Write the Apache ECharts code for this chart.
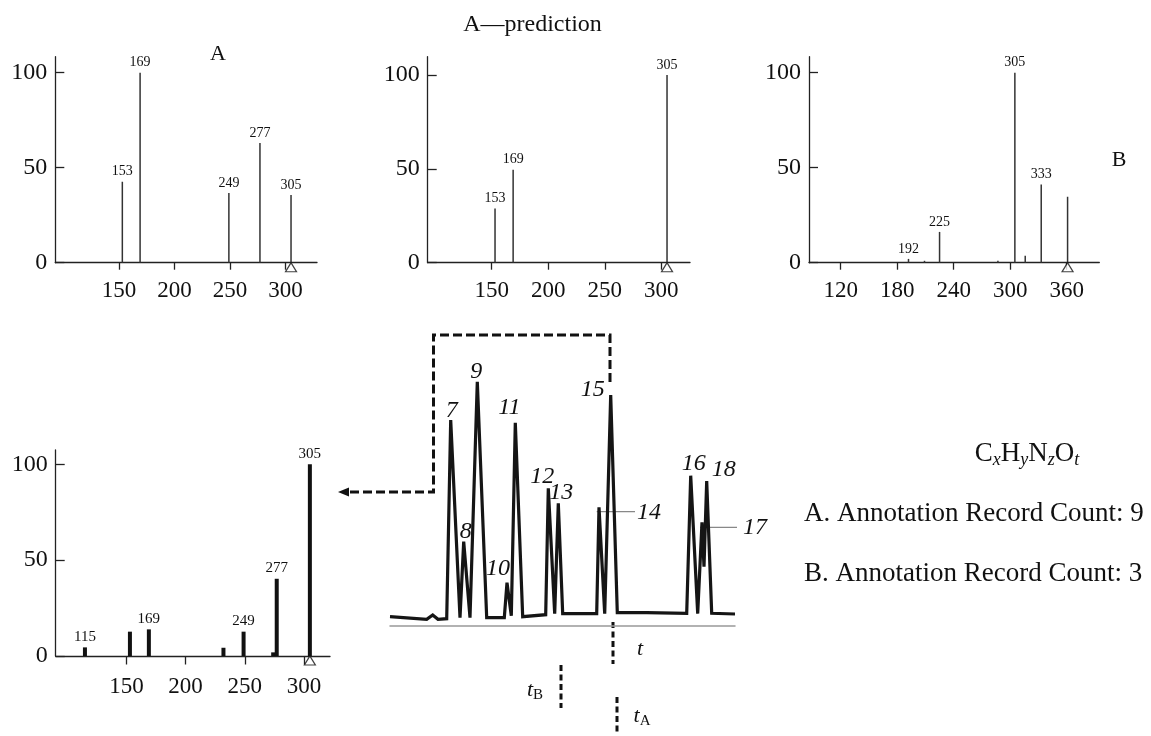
<!DOCTYPE html>
<html><head><meta charset="utf-8">
<script src="https://cdn.jsdelivr.net/npm/echarts@6/dist/echarts.min.js"></script>
<style>html,body{margin:0;padding:0;background:#fff}#c{width:1151px;height:736px}</style>
</head><body><div id="c"></div>
<script>
// ---- data ----
// Spectrum A (top-left)
const specA_mz  = [153, 169, 249, 277, 305];
const specA_int = [42.6, 100, 36.7, 63, 35.6];
const specA_lab = ['153', '169', '249', '277', '305'];
// A - prediction (top-middle)
const pred_mz  = [153, 169, 305];
const pred_int = [28.9, 49.5, 100];
const pred_lab = ['153', '169', '305'];
// Spectrum B (top-right)
const specB_mz  = [192, 209, 225, 287, 305, 316, 333, 361];
const specB_int = [2, 1, 16.2, 1, 100, 3.7, 41.2, 34.7];
const specB_lab = ['192', '', '225', '', '305', '', '333', ''];
// measured spectrum of peak 15 (bottom-left)
const meas_mz  = [115, 153, 169, 232, 249, 274, 277, 305];
const meas_int = [4.5, 12.7, 13.9, 4.3, 12.7, 1.9, 40.3, 100];
const meas_lab = ['115', '', '169', '', '249', '', '277', '305'];
// precursor markers
const precA = 305, precPred = 305, precB = 361, precMeas = 305;
// tick labels
const ticksMz  = [150, 200, 250, 300];
const ticksMzB = [120, 180, 240, 300, 360];
const ticksInt = [0, 50, 100];
// chromatogram trace (retention position, signal)
const chromX = [0, 36.7, 42.7, 48, 56.7, 60.7, 70, 73.7, 80, 82, 87.3, 96.7, 114.3, 117, 121.3, 125.3, 132.7,
                155.7, 158.3, 164.7, 168.3, 172.7, 206.7, 209, 214.7, 220.7, 227.3, 256.7, 296.7, 300.7,
                307.7, 312, 314, 316.7, 321.7, 345];
const chromY = [9, 6.4, 10.7, 6.4, 7, 205.7, 8, 84, 8, 7, 244, 8, 8, 43, 10, 203, 9,
                11, 137.4, 12, 122.4, 12, 12, 118.4, 12, 230.7, 13, 13, 12.4, 150,
                12, 103.4, 59, 144.7, 12.4, 11.7];
// chromatographic peaks
const peakNames = ['7', '8', '9', '10', '11', '12', '13', '14', '15', '16', '17', '18'];
const peakX = [60.7, 73.7, 87.3, 117, 125.3, 158.3, 168.3, 209, 220.7, 300.7, 312, 316.7];
const peakY = [205.7, 84, 244, 43, 203, 137.4, 122.4, 118.4, 230.7, 150, 103.4, 144.7];

// ---- styles ----
const SERIF = '"Liberation Serif", "Times New Roman", serif';
const labelOffsets = [[1,-9],[2,-10],[-1,-10],[-9,-14],[-6,-15],[-6,-12],[3,-11],[50,5],[-18,-5],[3,-12],[53,5],[17,-11]];

const grids = [
  {left: 55.3, top: 56.7, width: 261.7, height: 206},
  {left: 427.7, top: 56.7, width: 262.3, height: 206},
  {left: 809, top: 56.7, width: 290.3, height: 206},
  {left: 55.7, top: 450, width: 274.3, height: 206},
  {left: 390, top: 325.7, width: 345, height: 300}
];
const xr = [[92.6, 328.4], [93.5, 325.3], [86.3, 394.7], [90.3, 322]];
const yr = [108.4, 109.7, 108.4, 107.5];
const xt = [ticksMz, ticksMz, ticksMzB, ticksMz];

const xAxis = [], yAxis = [];
for (let i = 0; i < 4; i++) {
  xAxis.push({
    type: 'value', gridIndex: i, min: xr[i][0], max: xr[i][1],
    axisLine: {lineStyle: {color: '#222', width: 1.3}},
    axisTick: {show: true, inside: false, length: i === 3 ? 8.5 : 7, customValues: xt[i], lineStyle: {color: '#222', width: 1.3}},
    axisLabel: {customValues: xt[i], color: '#111', fontFamily: SERIF, fontSize: 23, margin: i === 3 ? 19 : 17},
    splitLine: {show: false}
  });
  yAxis.push({
    type: 'value', gridIndex: i, min: 0, max: yr[i],
    axisLine: {show: true, lineStyle: {color: '#222', width: 1.3}},
    axisTick: {show: true, inside: true, length: 9, customValues: ticksInt, lineStyle: {color: '#222', width: 1.3}},
    axisLabel: {customValues: ticksInt, color: '#111', fontFamily: SERIF, fontSize: 24, margin: 8},
    splitLine: {show: false}
  });
}
xAxis.push({type: 'value', gridIndex: 4, min: 0, max: 345,
  axisLine: {lineStyle: {color: '#999', width: 1.5}}, axisTick: {show: false}, axisLabel: {show: false}, splitLine: {show: false}});
yAxis.push({type: 'value', gridIndex: 4, min: 0, max: 300, show: false});

function barSeries(idx, mz, ints, labs, width, color, fs) {
  return {
    type: 'bar', xAxisIndex: idx, yAxisIndex: idx, barWidth: width,
    itemStyle: {color: color},
    data: mz.map((m, k) => ({value: [m, ints[k]], label: {show: labs[k] !== ''}})),
    label: {show: true, position: 'top', distance: 3, color: '#111', fontFamily: SERIF, fontSize: fs,
            formatter: p => labs[p.dataIndex]},
    animation: false, silent: true
  };
}
function precSeries(idx, x) {
  return {
    type: 'scatter', xAxisIndex: idx, yAxisIndex: idx, clip: false, z: 5,
    symbol: 'triangle', symbolSize: [11, 9], symbolOffset: [0, 4.5],
    itemStyle: {color: '#fff', borderColor: '#111', borderWidth: 1.2},
    data: [[x, 0]], animation: false, silent: true
  };
}

const series = [
  barSeries(0, specA_mz, specA_int, specA_lab, 1.5, '#333', 14),
  barSeries(1, pred_mz, pred_int, pred_lab, 1.5, '#333', 14),
  barSeries(2, specB_mz, specB_int, specB_lab, 1.5, '#333', 14),
  barSeries(3, meas_mz, meas_int, meas_lab, 4, '#111', 15),
  precSeries(0, precA), precSeries(1, precPred), precSeries(2, precB), precSeries(3, precMeas),
  {
    type: 'line', xAxisIndex: 4, yAxisIndex: 4, symbol: 'none', clip: false,
    lineStyle: {color: '#151515', width: 3.2, join: 'miter', miterLimit: 3},
    data: chromX.map((x, k) => [x, chromY[k]]), animation: false, silent: true
  },
  {
    type: 'scatter', xAxisIndex: 4, yAxisIndex: 4, clip: false, symbolSize: 1,
    itemStyle: {color: 'rgba(255,255,255,0)'},
    data: peakX.map((x, k) => ({value: [x, peakY[k]], label: {offset: labelOffsets[k]}})),
    label: {show: true, position: 'inside', color: '#111', fontFamily: SERIF, fontStyle: 'italic', fontSize: 24,
            textBorderWidth: 0, textBorderColor: 'transparent', opacity: 1,
            formatter: p => peakNames[p.dataIndex]},
    animation: false, silent: true
  }
];

const dashStroke = {stroke: '#111', lineWidth: 3, lineDash: [9, 4], fill: null};
const shortDash = {stroke: '#111', lineWidth: 3, lineDash: [6, 3.5], fill: null};
const graphic = [
  {type: 'polyline', shape: {points: [[610, 382], [610, 335], [433.5, 335], [433.5, 492], [347, 492]]}, style: dashStroke},
  {type: 'polygon', shape: {points: [[338, 492], [349, 487.5], [349, 496.5]]}, style: {fill: '#111'}},
  {type: 'line', shape: {x1: 613, y1: 622, x2: 613, y2: 664}, style: shortDash},
  {type: 'line', shape: {x1: 561, y1: 665, x2: 561, y2: 708}, style: shortDash},
  {type: 'line', shape: {x1: 617, y1: 697, x2: 617, y2: 734}, style: shortDash},
  {type: 'line', shape: {x1: 596.7, y1: 511.7, x2: 635, y2: 511.7}, style: {stroke: '#888', lineWidth: 1.2}},
  {type: 'line', shape: {x1: 700, y1: 527.3, x2: 737, y2: 527.3}, style: {stroke: '#888', lineWidth: 1.2}},
  {type: 'text', style: {text: 'A\u2014prediction', x: 532.5, y: 25, textAlign: 'center', textVerticalAlign: 'middle',
    fontFamily: SERIF, fontSize: 24, fill: '#111'}},
  {type: 'text', style: {text: 'A', x: 218, y: 54, textAlign: 'center', textVerticalAlign: 'middle',
    fontFamily: SERIF, fontSize: 22, fill: '#111'}},
  {type: 'text', style: {text: 'B', x: 1119, y: 160, textAlign: 'center', textVerticalAlign: 'middle',
    fontFamily: SERIF, fontSize: 22, fill: '#111'}},
  {type: 'text', style: {text: 't', x: 640, y: 649, textAlign: 'center', textVerticalAlign: 'middle',
    fontFamily: SERIF, fontStyle: 'italic', fontSize: 22, fill: '#111'}},
  {type: 'text', style: {text: '{t|t}{s|B}', x: 535, y: 690, textAlign: 'center', textVerticalAlign: 'middle',
    rich: {t: {fontFamily: SERIF, fontStyle: 'italic', fontSize: 22, lineHeight: 26, fill: '#111'},
           s: {fontFamily: SERIF, fontSize: 15, lineHeight: 12, verticalAlign: 'bottom', fill: '#111'}}}},
  {type: 'text', style: {text: '{t|t}{s|A}', x: 642, y: 716, textAlign: 'center', textVerticalAlign: 'middle',
    rich: {t: {fontFamily: SERIF, fontStyle: 'italic', fontSize: 22, lineHeight: 26, fill: '#111'},
           s: {fontFamily: SERIF, fontSize: 15, lineHeight: 12, verticalAlign: 'bottom', fill: '#111'}}}},
  {type: 'text', style: {text: '{b|C}{s|x}{b|H}{s|y}{b|N}{s|z}{b|O}{s|t}', x: 1027, y: 454, textAlign: 'center', textVerticalAlign: 'middle',
    rich: {b: {fontFamily: SERIF, fontSize: 27, lineHeight: 30, fill: '#111'},
           s: {fontFamily: SERIF, fontStyle: 'italic', fontSize: 18, lineHeight: 15, verticalAlign: 'bottom', fill: '#111'}}}},
  {type: 'text', style: {text: 'A. Annotation Record Count: 9', x: 804, y: 514, textAlign: 'left', textVerticalAlign: 'middle',
    fontFamily: SERIF, fontSize: 27, fill: '#111'}},
  {type: 'text', style: {text: 'B. Annotation Record Count: 3', x: 804, y: 574, textAlign: 'left', textVerticalAlign: 'middle',
    fontFamily: SERIF, fontSize: 27, fill: '#111'}}
];

const chart = echarts.init(document.getElementById('c'), null, {renderer: 'canvas'});
chart.setOption({
  backgroundColor: '#fff', animation: false,
  grid: grids, xAxis: xAxis, yAxis: yAxis, series: series, graphic: graphic
});
</script>
</body></html>
